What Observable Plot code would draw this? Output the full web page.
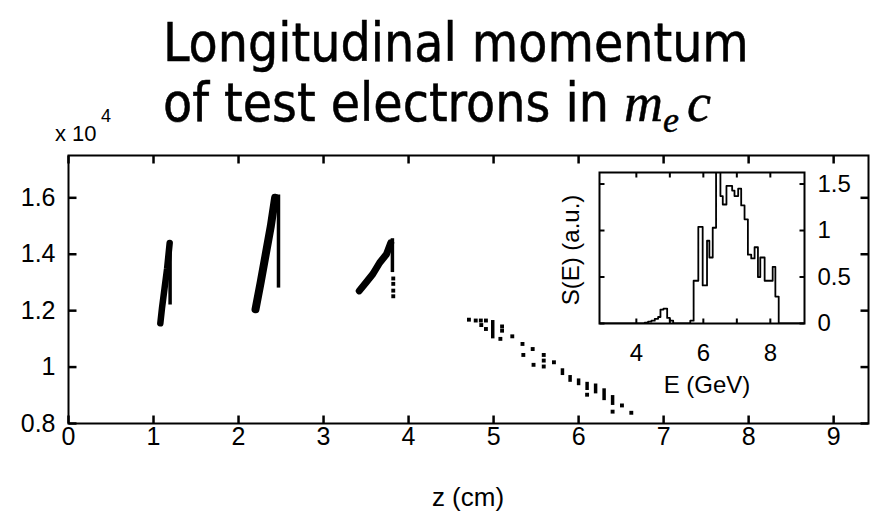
<!DOCTYPE html>
<html>
<head>
<meta charset="utf-8">
<script src="https://cdn.jsdelivr.net/npm/d3@7"></script>
<script src="https://cdn.jsdelivr.net/npm/@observablehq/plot@0.6"></script>
<style>
  body { margin: 0; background: #fff; }
  #wrap { position: relative; width: 881px; height: 520px; overflow: hidden; background: #fff; }
  #wrap > svg { position: absolute; }
</style>
</head>
<body>
<div id="wrap"></div>
<script>
// ---------- Main panel: longitudinal momentum (x 10^4 m_e c) vs z (cm) ----------
const zTicks = [0, 1, 2, 3, 4, 5, 6, 7, 8, 9];
const pTicks = [0.8, 1, 1.2, 1.4, 1.6];

// dense ramps of the three accelerated bunches (polyline per bunch)
const bandSeg = [1, 1, 1, 1, 1, 2, 2, 2, 2, 2, 3, 3, 3, 3, 3, 3];
const bandZ   = [1.08, 1.10, 1.13, 1.16, 1.19, 2.20, 2.26, 2.32, 2.38, 2.43, 3.42, 3.50, 3.58, 3.66, 3.74, 3.79];
const bandP   = [1.155, 1.21, 1.28, 1.35, 1.44, 1.205, 1.30, 1.40, 1.50, 1.60, 1.27, 1.30, 1.33, 1.37, 1.40, 1.44];

// vertical return strips of each bunch
const stripZ      = [1.195, 2.47, 3.81];
const stripTop    = [1.44, 1.61, 1.455];
const stripBottom = [1.22, 1.28, 1.335];

// short vertical dashes (decelerating bunch)
const dashZ  = [4.99, 5.81, 5.90, 6.00, 6.10, 6.20, 6.30, 6.40];
const dashP1 = [1.100, 0.970, 0.946, 0.934, 0.917, 0.905, 0.881, 0.864];
const dashP2 = [1.165, 0.994, 0.970, 0.958, 0.946, 0.940, 0.923, 0.899];

// isolated points
const dotZ = [3.82, 3.82, 3.82, 3.82, 4.71, 4.79, 4.85, 4.855, 4.91, 4.91, 5.08, 5.10, 5.10, 5.22, 5.34, 5.35, 5.46, 5.47, 5.59, 5.59, 5.59, 5.71, 6.10, 6.40, 6.51, 6.62];
const dotP = [1.314, 1.295, 1.271, 1.251, 1.168, 1.165, 1.165, 1.149, 1.165, 1.135, 1.100, 1.144, 1.129, 1.109, 1.082, 1.043, 1.064, 1.008, 1.043, 1.023, 1.002, 1.017, 0.902, 0.842, 0.864, 0.838];

// ---------- Inset: spectrum S(E) ----------
const eTicks  = [4, 5, 6, 7, 8];
const eLabels = [4, 6, 8];
const sTicks  = [0, 0.5, 1, 1.5];
const histE = [2.9, 4.25, 4.35, 4.45, 4.55, 4.65, 4.72, 4.81, 4.92, 5.0, 5.1, 5.61, 5.71, 5.85, 5.98, 6.11, 6.18, 6.28, 6.38, 6.51, 6.58, 6.69, 6.86, 6.93, 7.04, 7.13, 7.23, 7.33, 7.43, 7.53, 7.63, 7.70, 7.83, 7.95, 8.07, 8.15, 8.25, 9.0];
const histS = [0, 0.01, 0.02, 0.03, 0.05, 0.07, 0.15, 0.16, 0.06, 0.03, 0.0, 0.03, 0.46, 1.04, 0.41, 0.89, 0.71, 1.03, 1.8, 1.37, 1.28, 1.48, 1.43, 1.37, 1.45, 1.27, 1.12, 0.74, 0.70, 0.82, 0.50, 0.71, 0.46, 0.46, 0.61, 0.29, 0, 0];

// tables built from the arrays
const bands  = bandZ.map((z, i) => ({z, p: bandP[i], seg: bandSeg[i]}));
const strips = stripZ.map((z, i) => ({z, top: stripTop[i], bottom: stripBottom[i]}));
const dashes = dashZ.map((z, i) => ({z, p1: dashP1[i], p2: dashP2[i]}));
const dots   = dotZ.map((z, i) => ({z, p: dotP[i]}));
const hist   = histE.map((E, i) => ({E, S: histS[i]}));

const FONT = "'Liberation Sans', Arial, Helvetica, sans-serif";

// inward tick marks of a box frame, built as links in data space
function boxTicks(xt, yt, xDom, yDom, fw, fh, len, sw) {
  const dx = len * (xDom[1] - xDom[0]) / fw;
  const dy = len * (yDom[1] - yDom[0]) / fh;
  const bottom = xt.map(v => ({v, a: yDom[0], b: yDom[0] + dy}));
  const top    = xt.map(v => ({v, a: yDom[1] - dy, b: yDom[1]}));
  const left   = yt.map(v => ({v, a: xDom[0], b: xDom[0] + dx}));
  const right  = yt.map(v => ({v, a: xDom[1] - dx, b: xDom[1]}));
  const st = {stroke: "#000", strokeWidth: sw};
  return [
    Plot.link(bottom, {x1: "v", x2: "v", y1: "a", y2: "b", ...st}),
    Plot.link(top,    {x1: "v", x2: "v", y1: "a", y2: "b", ...st}),
    Plot.link(left,   {y1: "v", y2: "v", x1: "a", x2: "b", ...st}),
    Plot.link(right,  {y1: "v", y2: "v", x1: "a", x2: "b", ...st})
  ];
}

// main frame geometry (pixels)
const W = 881, H = 520, ML = 68, MR = 13, MT = 155, MB = 97;
const FW = W - ML - MR, FH = H - MT - MB;
const zDom = [0, 9.41], pDom = [0.8, 1.75];

const main = Plot.plot({
  width: W, height: H,
  marginLeft: ML, marginRight: MR, marginTop: MT, marginBottom: MB,
  style: {fontFamily: FONT, fontSize: "25px", background: "transparent", color: "#000"},
  x: {domain: zDom},
  y: {domain: pDom},
  marks: [
    Plot.line(bands.filter(d => d.seg === 1), {x: "z", y: "p", stroke: "#000", strokeWidth: 6.5, strokeLinecap: "round"}),
    Plot.line(bands.filter(d => d.seg === 2), {x: "z", y: "p", stroke: "#000", strokeWidth: 8, strokeLinecap: "round"}),
    Plot.line(bands.filter(d => d.seg === 3), {x: "z", y: "p", stroke: "#000", strokeWidth: 7, strokeLinecap: "round"}),
    Plot.ruleX(strips, {x: "z", y1: "top", y2: "bottom", stroke: "#000", strokeWidth: 3.5}),
    Plot.ruleX(dashes, {x: "z", y1: "p1", y2: "p2", stroke: "#000", strokeWidth: 3.5}),
    Plot.dot(dots, {x: "z", y: "p", symbol: "square", r: 2.2, fill: "#000", stroke: "none"}),
    ...boxTicks(zTicks, pTicks, zDom, pDom, FW, FH, 8, 2.5),
    Plot.frame({stroke: "#000", strokeWidth: 2}),
    Plot.axisX(zTicks, {anchor: "bottom", tickSize: 0, tickPadding: 4, tickFormat: d => String(d), label: null}),
    Plot.axisY(pTicks, {anchor: "left", tickSize: 0, tickPadding: 13, tickFormat: d => String(d), label: null})
  ]
});
main.style.left = "0px";
main.style.top = "0px";

// inset frame geometry (pixels)
const iW = 330, iH = 240, iML = 59, iMR = 66, iMT = 12, iMB = 77;
const iFW = iW - iML - iMR, iFH = iH - iMT - iMB;
const eDom = [2.9, 9.02], sDom = [0, 1.624];

const inset = Plot.plot({
  width: iW, height: iH,
  marginLeft: iML, marginRight: iMR, marginTop: iMT, marginBottom: iMB,
  style: {fontFamily: FONT, fontSize: "24px", background: "transparent", color: "#000"},
  x: {domain: eDom},
  y: {domain: sDom},
  marks: [
    Plot.line(hist, {x: "E", y: "S", curve: "step-after", stroke: "#000", strokeWidth: 1.8, clip: true}),
    ...boxTicks(eTicks, sTicks, eDom, sDom, iFW, iFH, 5, 2),
    Plot.frame({stroke: "#000", strokeWidth: 2}),
    Plot.axisX(eLabels, {anchor: "bottom", tickSize: 0, tickPadding: 20, tickFormat: d => String(d), label: null}),
    Plot.axisY(sTicks, {anchor: "right", tickSize: 0, tickPadding: 13, tickFormat: d => String(d), label: null})
  ]
});
inset.style.left = "540px";
inset.style.top = "160px";

// ---------- Text overlay: title and axis labels ----------
const NS = "http://www.w3.org/2000/svg";
const over = document.createElementNS(NS, "svg");
over.setAttribute("width", W);
over.setAttribute("height", H);
over.style.left = "0px";
over.style.top = "0px";
const SANS = "'DejaVu Sans Condensed','DejaVu Sans',sans-serif";
const SERIF = "'Liberation Serif','Times New Roman',serif";
over.innerHTML = `
  <g font-family="${SANS}" font-stretch="condensed" font-size="53" fill="#000" stroke="#000" stroke-width="0.5">
    <text x="163" y="61">Longitudinal momentum</text>
    <text x="163" y="121">of test electrons in <tspan font-family="${SERIF}" font-style="italic" font-stretch="normal" font-size="54">m</tspan><tspan font-family="${SERIF}" font-style="italic" font-stretch="normal" font-size="36" dy="11">e</tspan><tspan font-family="${SERIF}" font-style="italic" font-stretch="normal" font-size="54" dy="-11" dx="8">c</tspan></text>
  </g>
  <g font-family="${FONT}" fill="#000">
    <text x="55" y="141" font-size="22">x 10</text>
    <text x="101" y="122" font-size="18">4</text>
    <text x="468" y="506" font-size="26" text-anchor="middle">z (cm)</text>
    <text x="707" y="393" font-size="24" text-anchor="middle">E (GeV)</text>
    <text transform="translate(579,250) rotate(-90)" font-size="24" text-anchor="middle">S(E) (a.u.)</text>
  </g>`;

const wrap = document.getElementById("wrap");
wrap.appendChild(main);
wrap.appendChild(inset);
wrap.appendChild(over);
</script>
</body>
</html>
